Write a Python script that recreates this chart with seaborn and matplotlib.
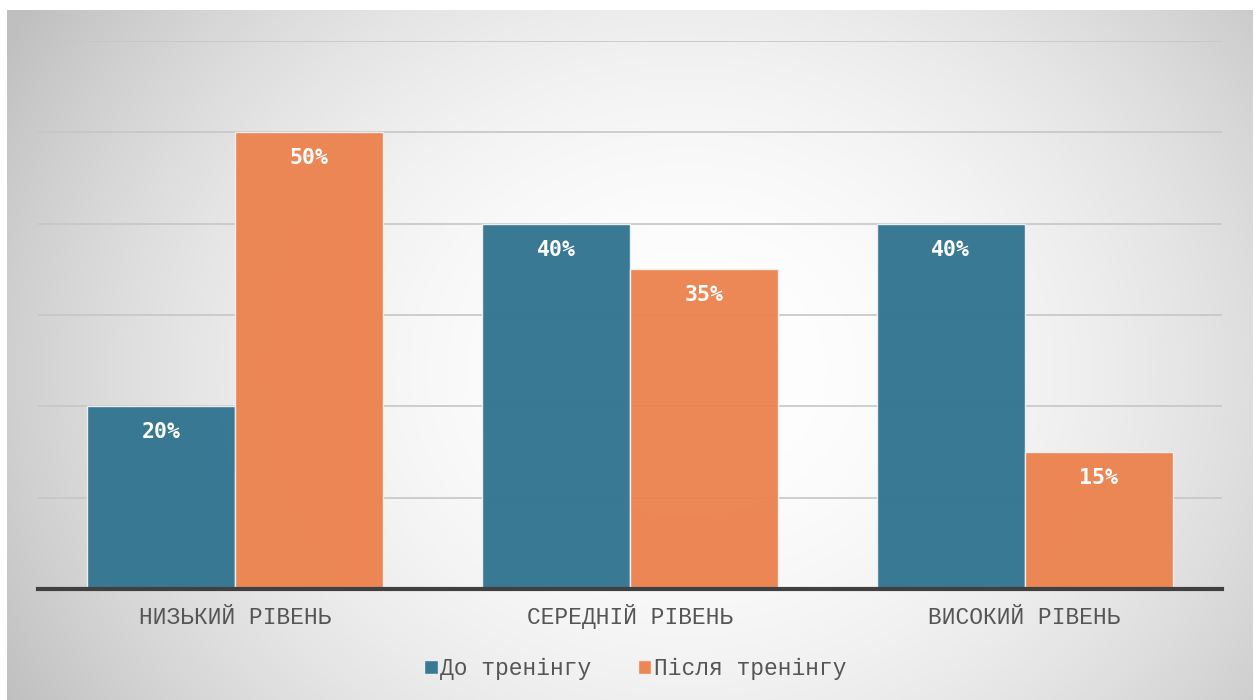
import matplotlib
matplotlib.use("Agg")
import matplotlib.pyplot as plt
import numpy as np
import pandas as pd
import seaborn as sns

# рівні та відсотки до / після тренінгу
levels = ["НИЗЬКИЙ РІВЕНЬ", "СЕРЕДНІЙ РІВЕНЬ", "ВИСОКИЙ РІВЕНЬ"]
series = ["До тренінгу", "Після тренінгу"]
before = [20, 40, 40]
after = [50, 35, 15]
colors = ["#337591", "#ec8350"]

df = pd.DataFrame({
    "level": levels * 2,
    "series": [series[0]] * 3 + [series[1]] * 3,
    "value": before + after,
})

sns.set_theme(style="white")
plt.rcParams["font.family"] = ["Liberation Mono", "DejaVu Sans Mono"]

fig = plt.figure(figsize=(12.58, 7), dpi=100)

# radial gradient background
bg = fig.add_axes([7 / 1258, 0, 1246 / 1258, 690 / 700], zorder=-10)
yy, xx = np.mgrid[0:690, 0:1246]
r2 = ((xx - 680) / 700) ** 2 + ((yy - 360) / 600) ** 2
shade = np.clip(1 - 0.2 * r2, 0.75, 1)
bg.imshow(np.dstack([shade] * 3), aspect="auto", extent=[0, 1, 0, 1])
bg.axis("off")

ax = fig.add_axes([38 / 1258, 111 / 700, 1184 / 1258, 548 / 700])
ax.patch.set_alpha(0)
sns.barplot(data=df, x="level", y="value", hue="series", palette=colors,
            width=0.75, alpha=0.97, saturation=1, edgecolor="#f0f0f0",
            linewidth=1, ax=ax, zorder=2)

ax.set_xlim(-0.5, 2.5)
ax.set_ylim(0, 60)
ax.set_yticks(range(0, 61, 10))
ax.yaxis.grid(True, color="#c6c6c6", linewidth=1.2, zorder=0)
ax.set_axisbelow(True)
ax.tick_params(axis="y", left=False, labelleft=False)
ax.tick_params(axis="x", bottom=False, length=0, labelsize=16.5,
               colors="#555555", pad=25)
for lab in ax.get_xticklabels():
    lab.set_verticalalignment("baseline")
ax.set_xlabel("")
ax.set_ylabel("")
for side in ["top", "left", "right"]:
    ax.spines[side].set_visible(False)
ax.spines["bottom"].set_color("#404040")
ax.spines["bottom"].set_linewidth(3)

for cont in ax.containers:
    ax.bar_label(cont, labels=[f"{v:.0f}%" for v in cont.datavalues],
                 label_type="edge", padding=-26, color="white",
                 fontsize=15.5, fontweight="bold", family="DejaVu Sans Mono")

handles, labs = ax.get_legend_handles_labels()
ax.legend_.remove()
fig.legend(handles, labs, loc="center", bbox_to_anchor=(0.505, 0.045), ncol=2,
           frameon=False, fontsize=16.5, handlelength=0.6, handleheight=0.6,
           handletextpad=0.1, columnspacing=2.0, labelcolor="#555555")

fig.savefig("out.png", dpi=100)
